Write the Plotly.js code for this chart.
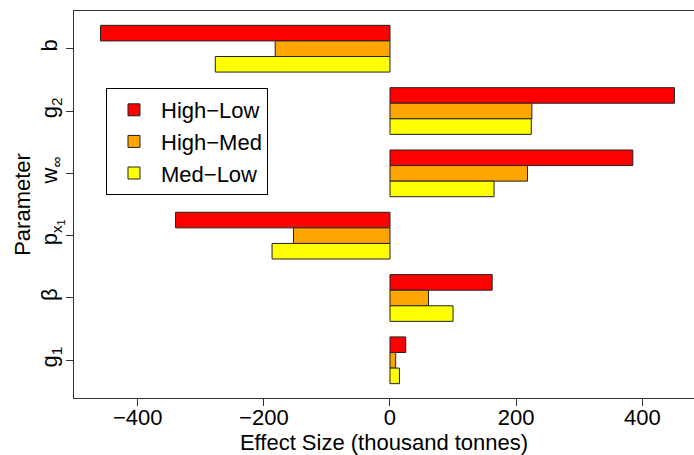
<!DOCTYPE html>
<html>
<head>
<meta charset="utf-8">
<script src="https://cdn.plot.ly/plotly-3.0.1.min.js"></script>
<style>html,body{margin:0;padding:0;background:#fff;}#chart{width:694px;height:455px;}</style>
</head>
<body>
<div id="chart"></div>
<script>
// Parameters (top to bottom)
const parameters = ["b", "g<sub>2</sub>", "w<sub>∞</sub>", "p<sub>x<sub>1</sub></sub>", "β", "g<sub>1</sub>"];
const seriesNames = ["High−Low", "High−Med", "Med−Low"];
const highLow = [-459, 451, 385, -340, 162, 25];
const highMed = [-182, 225, 218, -153, 61, 9];
const medLow  = [-277, 224, 165, -187, 100, 15];
const seriesColors = ["#FF0000", "#FFA500", "#FFFF00"];
const xTickVals = [-400, -200, 0, 200, 400];

const allValues = [highLow, highMed, medLow];
const traces = allValues.map((vals, i) => ({
  type: "bar",
  orientation: "h",
  name: seriesNames[i],
  x: vals,
  y: parameters,
  marker: {color: seriesColors[i], line: {color: "#222", width: 1}},
  hoverinfo: "skip"
}));

const font = {family: "Liberation Sans, Arial, Helvetica, sans-serif", color: "#000", size: 22};

const layout = {
  width: 694, height: 455,
  margin: {l: 74, r: 0, t: 11, b: 57, pad: 0},
  paper_bgcolor: "#fff", plot_bgcolor: "#fff",
  font: font,
  barmode: "group", bargap: 0.25, bargroupgap: 0,
  showlegend: true,
  legend: {
    x: 0.0516, y: 0.801, xanchor: "left", yanchor: "top",
    bordercolor: "#000", borderwidth: 1, bgcolor: "#fff",
    traceorder: "normal", itemwidth: 44,
    font: {family: font.family, size: 22, color: "#000"}
  },
  xaxis: {
    range: [-501, 482],
    tickmode: "array", tickvals: xTickVals,
    ticks: "outside", ticklen: 7, tickwidth: 1, tickcolor: "#333",
    ticklabelstandoff: -7,
    showline: true, mirror: true, linecolor: "#333", linewidth: 1,
    showgrid: false, zeroline: false,
    tickfont: {size: 22},
    title: {text: "Effect Size (thousand tonnes)", font: {size: 22}, standoff: 4}
  },
  yaxis: {
    type: "category",
    categoryorder: "array", categoryarray: parameters,
    range: [5.605, -0.605],
    ticks: "outside", ticklen: 7, tickwidth: 1, tickcolor: "#333",
    showline: true, mirror: false, linecolor: "#333", linewidth: 1,
    showgrid: false, zeroline: false,
    tickangle: -90,
    tickfont: {size: 22},
    title: {text: "Parameter", font: {size: 22}, standoff: 0}
  }
};

Plotly.newPlot("chart", traces, layout, {displayModeBar: false, staticPlot: true});
</script>
</body>
</html>
